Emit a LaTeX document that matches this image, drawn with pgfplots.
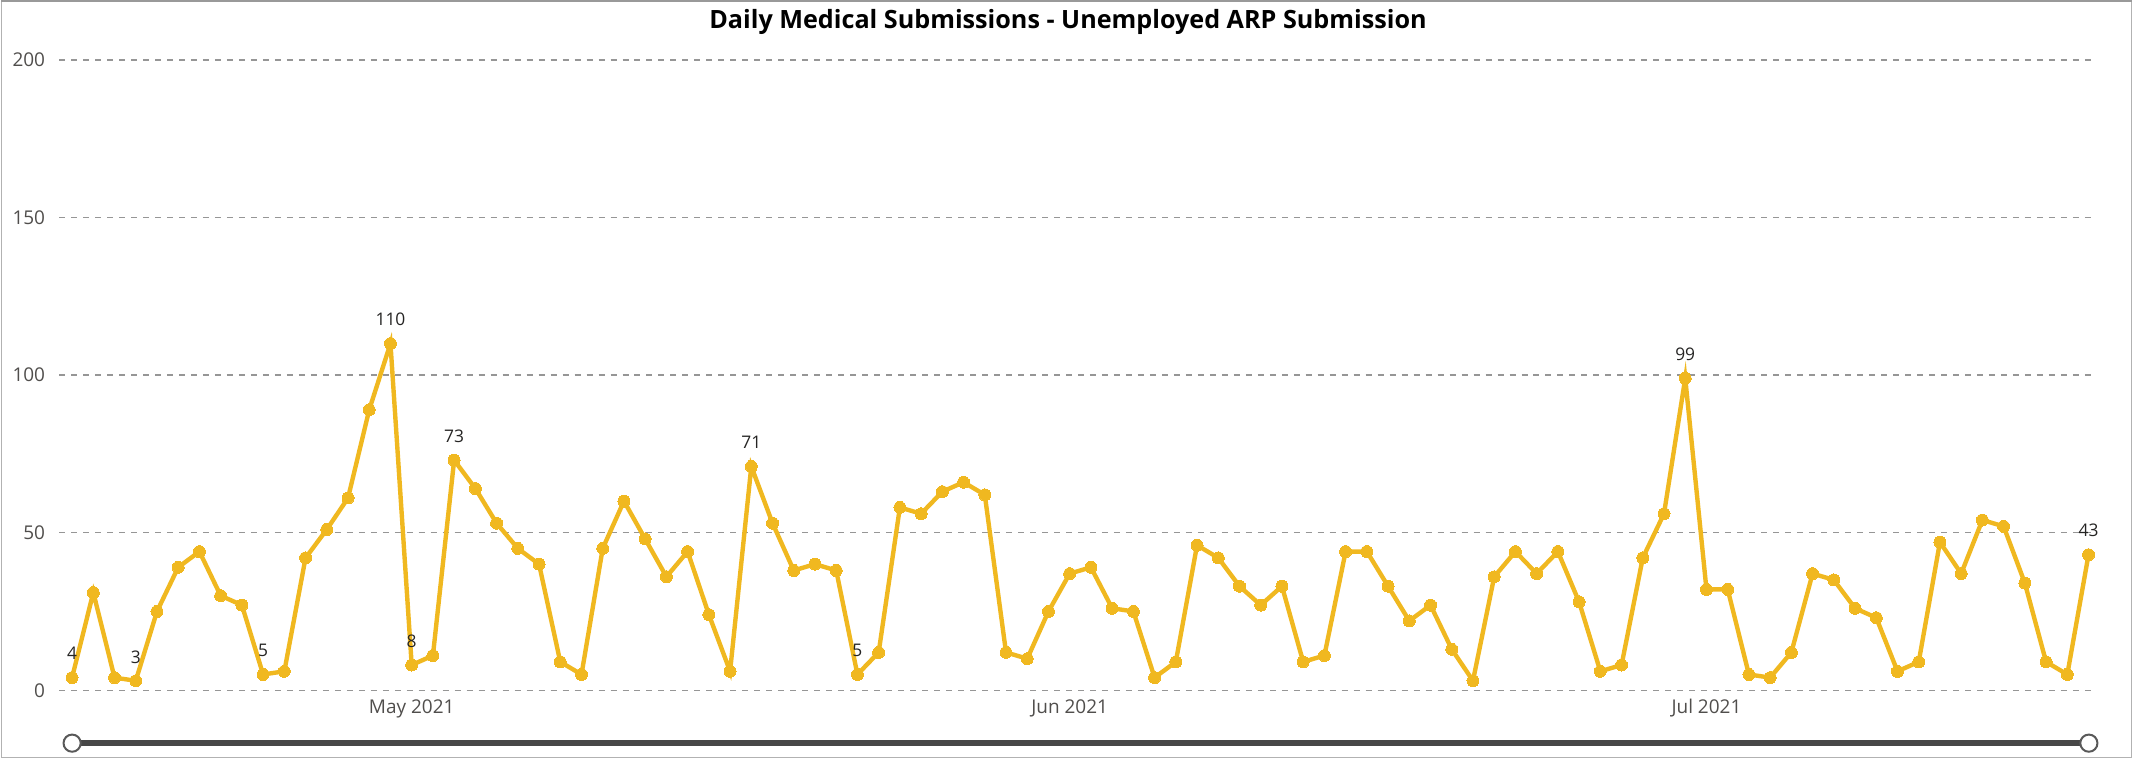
\documentclass[border=0pt]{standalone}
\usepackage{fontspec}
\setmainfont{Open Sans}
\usepackage{pgfplots}
\pgfplotsset{compat=1.18}
\usepackage{pgfplotstable}

\definecolor{pbiyellow}{RGB}{240,184,32}
\definecolor{gridgray}{RGB}{150,150,150}
\definecolor{ticktxt}{RGB}{80,78,76}
\definecolor{labtxt}{RGB}{37,36,35}

% day index (0 = 15 Apr 2021), submissions
\pgfplotstableread{
d v
0 4
1 31
2 4
3 3
4 25
5 39
6 44
7 30
8 27
9 5
10 6
11 42
12 51
13 61
14 89
15 110
16 8
17 11
18 73
19 64
20 53
21 45
22 40
23 9
24 5
25 45
26 60
27 48
28 36
29 44
30 24
31 6
32 71
33 53
34 38
35 40
36 38
37 5
38 12
39 58
40 56
41 63
42 66
43 62
44 12
45 10
46 25
47 37
48 39
49 26
50 25
51 4
52 9
53 46
54 42
55 33
56 27
57 33
58 9
59 11
60 44
61 44
62 33
63 22
64 27
65 13
66 3
67 36
68 44
69 37
70 44
71 28
72 6
73 8
74 42
75 56
76 99
77 32
78 32
79 5
80 4
81 12
82 37
83 35
84 26
85 23
86 6
87 9
88 47
89 37
90 54
91 52
92 34
93 9
94 5
95 43
}\daily

\begin{document}
\begin{tikzpicture}
% visual frame, 1 px = 0.5pt
\draw[draw=gray!60, line width=0.5pt] (0.25pt,0.25pt) rectangle (1066.25pt,379.25pt);
\draw[draw=gray!80, line width=1.2pt] (0pt,378.9pt) -- (1066.5pt,378.9pt);

\node[font=\bfseries\fontsize{12.6}{15}\selectfont, text=black] at (534pt,368.5pt)
  {Daily Medical Submissions - Unemployed ARP Submission};

\begin{axis}[
  at={(29pt,34pt)}, anchor=south west,
  scale only axis,
  width=1019pt, height=315.5pt,
  xmin=-0.61, xmax=95.3,
  ymin=0, ymax=200,
  axis line style={draw=none},
  major tick length=0pt,
  ytick={0,50,100,150,200},
  xtick={16,47,77},
  xticklabels={May 2021,Jun 2021,Jul 2021},
  ymajorgrids=true,
  major grid style={draw=gridgray, line width=0.7pt, dash pattern=on 3pt off 3pt},
  /pgf/number format/assume math mode=true,
  tick label style={font=\fontsize{9.5}{11}\selectfont, text=ticktxt},
  yticklabel style={xshift=-3.5pt},
  xticklabel style={yshift=-1pt},
  clip=false,
]
\addplot[pbiyellow, line width=2.2pt, mark=*, mark size=3pt,
  mark options={fill=pbiyellow, draw=pbiyellow, line width=0pt}]
  table[x=d, y=v]{\daily};
\addplot[draw=none, mark=none, nodes near coords,
  nodes near coords style={font=\fontsize{8.7}{10}\selectfont, text=labtxt,
    anchor=center, yshift=12pt}]
  coordinates {(0,4) (3,3) (9,5) (15,110) (16,8) (18,73) (32,71) (37,5) (76,99) (95,43)};
\end{axis}

% range slider under the chart
\draw[draw=black!72, line width=3pt] (35.5pt,7.5pt) -- (1045pt,7.5pt);
\draw[draw=black!65, fill=white, line width=1pt] (35.5pt,7.5pt) circle (4.3pt);
\draw[draw=black!65, fill=white, line width=1pt] (1045pt,7.5pt) circle (4.3pt);
\end{tikzpicture}
\end{document}
